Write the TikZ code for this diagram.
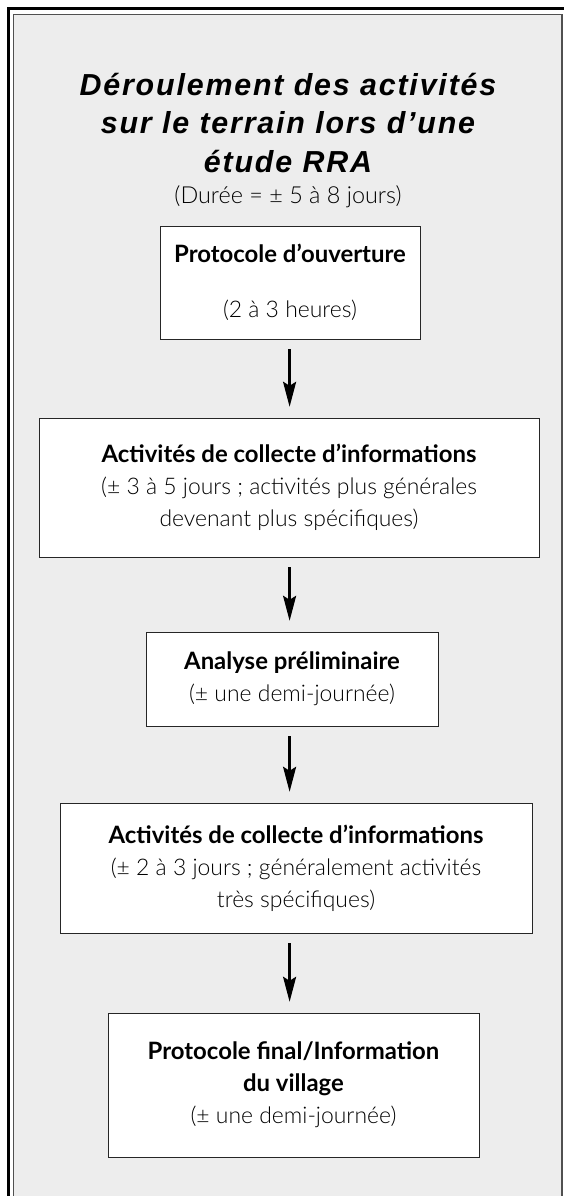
\documentclass[tikz,border=0pt]{standalone}
\usepackage{fontspec}
\setmainfont{Lato}[UprightFont=* Light, BoldFont=* Bold]
\newfontfamily\titrefont{Liberation Sans}[LetterSpace=6]
\usetikzlibrary{arrows.meta}

\definecolor{fondgris}{HTML}{EDEDED}
\definecolor{cadregris}{HTML}{505050}
\newcommand{\gras}[1]{{\fontsize{24}{32}\selectfont\bfseries #1}}

\begin{document}
\begin{tikzpicture}[x=1bp,y=-1bp]
    \useasboundingbox (0,0) rectangle (564,1196);
    \clip (0,0) rectangle (564,1196);
    % cadre
    \fill[white] (0,0) rectangle (564,1196);
    \draw[line width=3bp] (8.5,1210) -- (8.5,8.5) -- (567,8.5) -- (567,1210);
    \filldraw[fill=fondgris, draw=cadregris, line width=1.5bp]
        (13.5,1210) -- (13.5,14.5) -- (562,14.5) -- (562,1210);
    % titre
    \node[align=center, anchor=base, font=\titrefont\bfseries\itshape\fontsize{30.5}{38.5}\selectfont] (titre) at (288,172)
        {D\'eroulement des activit\'es\\sur le terrain lors d’une\\\'etude RRA};
    \node[font=\fontsize{23.5}{24}\selectfont, anchor=base] (duree) at (288,203) {(Dur\'ee = ± 5 à 8 jours)};
    \coordinate (col) at (289.6,0);
    \begin{scope}[every node/.style={draw=black!85, fill=white, thin, inner sep=0pt, align=center,
        font=\fontsize{23}{32}\selectfont}]
        \node[minimum width=260bp, minimum height=113bp] (e1) at (290,282.5)
            {\gras{Protocole d’ouverture}\\[23bp](2 à 3 heures)};
        \node[minimum width=500bp, minimum height=139bp] (e2) at (289,487.5)
            {\gras{Activit\'es de collecte d’informations}\\(± 3 à 5 jours ; activit\'es plus g\'en\'erales\\devenant plus sp\'ecifiques)};
        \node[minimum width=292bp, minimum height=94bp] (e3) at (292,679)
            {\gras{Analyse pr\'eliminaire}\\(± une demi-journ\'ee)};
        \node[minimum width=472bp, minimum height=130bp] (e4) at (296,868)
            {\gras{Activit\'es de collecte d’informations}\\(± 2 à 3 jours ; g\'en\'eralement activit\'es\\tr\`es sp\'ecifiques)};
        \node[minimum width=371bp, minimum height=144bp] (e5) at (293.5,1085)
            {\gras{Protocole final/Information}\\\gras{du village}\\(± une demi-journ\'ee)};
    \end{scope}
    \begin{scope}[every edge/.style={draw=black, line width=2.5bp, -{Stealth[length=25bp,width=13bp,inset=4bp]},
        shorten <=10bp, shorten >=11bp}]
        \path (e1.south -| col) edge (e2.north -| col);
        \path (e2.south -| col) edge (e3.north -| col);
        \path (e3.south -| col) edge (e4.north -| col);
        \path (e4.south -| col) edge (e5.north -| col);
    \end{scope}
\end{tikzpicture}
\end{document}
